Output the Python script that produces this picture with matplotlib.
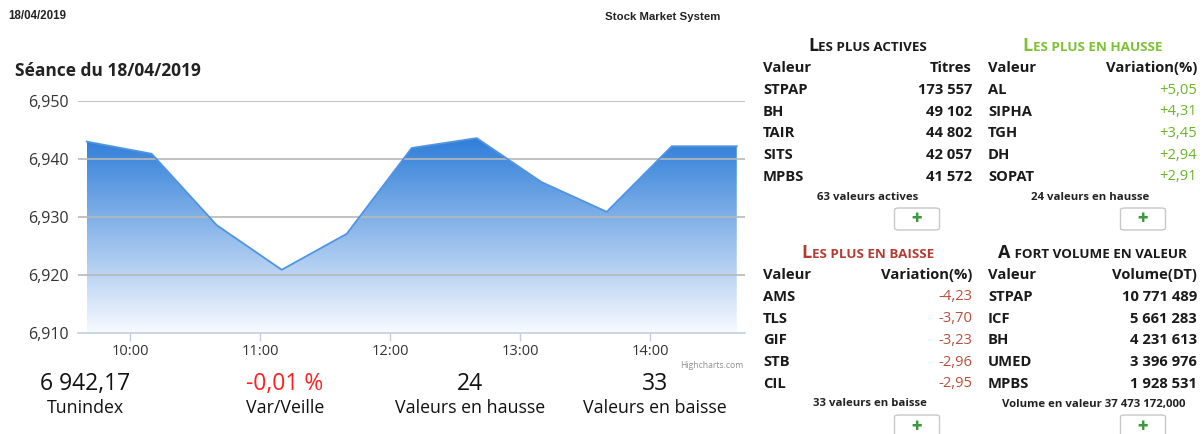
import matplotlib
matplotlib.use("Agg")
import matplotlib.pyplot as plt
import numpy as np
from matplotlib.patches import FancyBboxPatch, Polygon
from matplotlib.ticker import FuncFormatter, FixedLocator

plt.rcParams['font.family'] = ['Open Sans', 'DejaVu Sans']

# ---------------- data ----------------
times = ["09:40", "10:10", "10:40", "11:10", "11:40", "12:10", "12:40",
         "13:10", "13:40", "14:10", "14:40"]
index_values = [6943.0, 6940.9, 6928.6, 6920.9, 6927.1, 6941.9, 6943.6,
                6936.0, 6930.9, 6942.2, 6942.2]
y_ticks = [6910, 6920, 6930, 6940, 6950]
x_tick_labels = ["10:00", "11:00", "12:00", "13:00", "14:00"]

stat_values = ["6 942,17", "-0,01 %", "24", "33"]
stat_labels = ["Tunindex", "Var/Veille", "Valeurs en hausse", "Valeurs en baisse"]

actives_names = ["STPAP", "BH", "TAIR", "SITS", "MPBS"]
actives_titres = ["173 557", "49 102", "44 802", "42 057", "41 572"]
hausse_names = ["AL", "SIPHA", "TGH", "DH", "SOPAT"]
hausse_var = ["+5,05", "+4,31", "+3,45", "+2,94", "+2,91"]
baisse_names = ["AMS", "TLS", "GIF", "STB", "CIL"]
baisse_var = ["-4,23", "-3,70", "-3,23", "-2,96", "-2,95"]
volume_names = ["STPAP", "ICF", "BH", "UMED", "MPBS"]
volume_dt = ["10 771 489", "5 661 283", "4 231 613", "3 396 976", "1 928 531"]

# ---------------- figure ----------------
W, H = 1203, 434
fig = plt.figure(figsize=(W / 100, H / 100), dpi=100)
fig.patch.set_facecolor("white")


def fx(x):
    return x / W


def fy(y):
    return 1 - y / H


def tmin(t):
    h, m = t.split(":")
    return int(h) * 60 + int(m)


# chart axes: pixel box x 78..745, y 101..333
ax = fig.add_axes([fx(78), fy(333), (745 - 78) / W, (333 - 101) / H])
ax.set_facecolor("white")
xs = np.array([tmin(t) for t in times], dtype=float)
ys = np.array(index_values)
ax.set_xlim(9 * 60 + 36, 14 * 60 + 43.8)
ax.set_ylim(6910, 6950)

# gradient fill
top_c = np.array([0x2f, 0x7e, 0xd8]) / 255.0
bot_c = np.array([0.97, 0.98, 1.0])
n = 256
grad = np.linspace(0, 1, n)[:, None]
img = top_c[None, :] * (1 - grad[..., None]) + bot_c[None, :] * grad[..., None]
img = np.repeat(img, 2, axis=1)
im = ax.imshow(img, extent=[xs[0], xs[-1], 6910, ys.max()], origin="upper",
               aspect="auto", zorder=1, interpolation="bilinear")
poly = Polygon(np.vstack([[xs[0], 6910], np.column_stack([xs, ys]), [xs[-1], 6910]]),
               closed=True, transform=ax.transData, facecolor="none", edgecolor="none")
ax.add_patch(poly)
im.set_clip_path(poly)
ax.plot(xs, ys, color="#5094e2", lw=1.3, zorder=3)

# grid
for v in y_ticks[1:]:
    ax.axhline(v, color="#b8b8b8", lw=1.2, zorder=2)
for s in ["top", "right", "left"]:
    ax.spines[s].set_visible(False)
ax.spines["bottom"].set_color("#c0d0e0")
ax.spines["bottom"].set_linewidth(1.2)
ax.spines["bottom"].set_zorder(4)

ax.yaxis.set_major_locator(FixedLocator(y_ticks))
ax.yaxis.set_major_formatter(FuncFormatter(lambda v, p: f"{int(v):,}"))
ax.tick_params(axis="y", length=0, pad=7, labelsize=11.5, labelcolor="#333333")
xt = [tmin(t) for t in x_tick_labels]
ax.set_xticks(xt)
ax.set_xticklabels(x_tick_labels)
ax.tick_params(axis="x", length=6, width=1, color="#c0d0e0", pad=2,
               labelsize=10.5, labelcolor="#333333")

fig.text(fx(743), fy(365), "Highcharts.com", fontsize=6.2, color="#909090",
         ha="right", va="center")

# header texts
fig.text(fx(8), fy(16), "18/04/2019", fontsize=8.3, fontweight="bold", color="#222222",
         ha="left", va="center", family="Liberation Sans")
fig.text(fx(605), fy(17), "Stock Market System", fontsize=8.2, fontweight="bold",
         color="#222222", ha="left", va="center", family="Liberation Sans")
fig.text(fx(15), fy(71), "Séance du 18/04/2019", fontsize=12.5, fontweight="bold",
         color="#222222", ha="left", va="center")

# bottom stats
stat_x = [85, 285, 470, 655]
for i in range(4):
    col = "#ff2020" if i == 1 else "#111111"
    fig.text(fx(stat_x[i]), fy(384), stat_values[i], fontsize=16.5, color=col,
             ha="center", va="center")
    fig.text(fx(stat_x[i]), fy(408), stat_labels[i], fontsize=12.8, color="#111111",
             ha="center", va="center")

# tables
renderer = fig.canvas.get_renderer()


def smallcaps_title(cx, cy, text, color):
    first, rest = text[0], text[1:].upper()
    t1 = fig.text(0, fy(cy), first, fontsize=13, fontweight="bold", color=color,
                  ha="left", va="baseline")
    t2 = fig.text(0, fy(cy), rest, fontsize=9.6, fontweight="bold", color=color,
                  ha="left", va="baseline")
    w1 = t1.get_window_extent(renderer).width
    w2 = t2.get_window_extent(renderer).width
    total = w1 + w2
    x0 = cx - total / 2
    t1.set_x(fx(x0))
    t2.set_x(fx(x0 + w1))


def button(cx, cy):
    w, h = 45, 22
    b = FancyBboxPatch((fx(cx - w / 2), fy(cy + h / 2)), w / W, h / H,
                       boxstyle="round,pad=0,rounding_size=0.004",
                       transform=fig.transFigure, facecolor="white",
                       edgecolor="#c8c8c8", lw=1.0)
    fig.add_artist(b)
    fig.text(fx(cx), fy(cy), "\u271a", fontsize=9, color="#3c9a3c",
             ha="center", va="center", family="DejaVu Sans")


FS = 10.6


def table(left, right, ytitle, title, tcolor, head_r, names, vals, vcolor,
          footer, fcx, bcx):
    smallcaps_title((left + right) / 2, ytitle + 5, title, tcolor)
    yh = ytitle + 22
    fig.text(fx(left), fy(yh), "Valeur", fontsize=FS, fontweight="bold",
             color="#1a1a1a", ha="left", va="center")
    fig.text(fx(right), fy(yh), head_r, fontsize=FS, fontweight="bold",
             color="#1a1a1a", ha="right", va="center")
    vweight = "bold" if vcolor == "#1a1a1a" else "normal"
    for k in range(5):
        yr = yh + 22 + k * 21.7
        fig.text(fx(left), fy(yr), names[k], fontsize=FS, fontweight="bold",
                 color="#1a1a1a", ha="left", va="center")
        fig.text(fx(right), fy(yr), vals[k], fontsize=FS, color=vcolor,
                 fontweight=vweight, ha="right", va="center")
    fig.text(fx(fcx), fy(ytitle + 151), footer, fontsize=8.2, fontweight="bold",
             color="#222222", ha="center", va="center")
    button(bcx, ytitle + 173)


table(763, 972, 46, "Les plus actives", "#1a1a1a", "Titres",
      actives_names, actives_titres, "#1a1a1a", "63 valeurs actives", 868, 917)
table(988, 1197, 46, "Les plus en hausse", "#7cc234", "Variation(%)",
      hausse_names, hausse_var, "#6cb52a", "24 valeurs en hausse", 1090, 1143)
table(763, 972, 253, "Les plus en baisse", "#b33c32", "Variation(%)",
      baisse_names, baisse_var, "#b8503a", "33 valeurs en baisse", 870, 917)
table(988, 1197, 253, "A fort volume en valeur", "#1a1a1a", "Volume(DT)",
      volume_names, volume_dt, "#1a1a1a", "Volume en valeur 37 473 172,000", 1094, 1143)

fig.savefig("out.png", dpi=100, facecolor="white")
